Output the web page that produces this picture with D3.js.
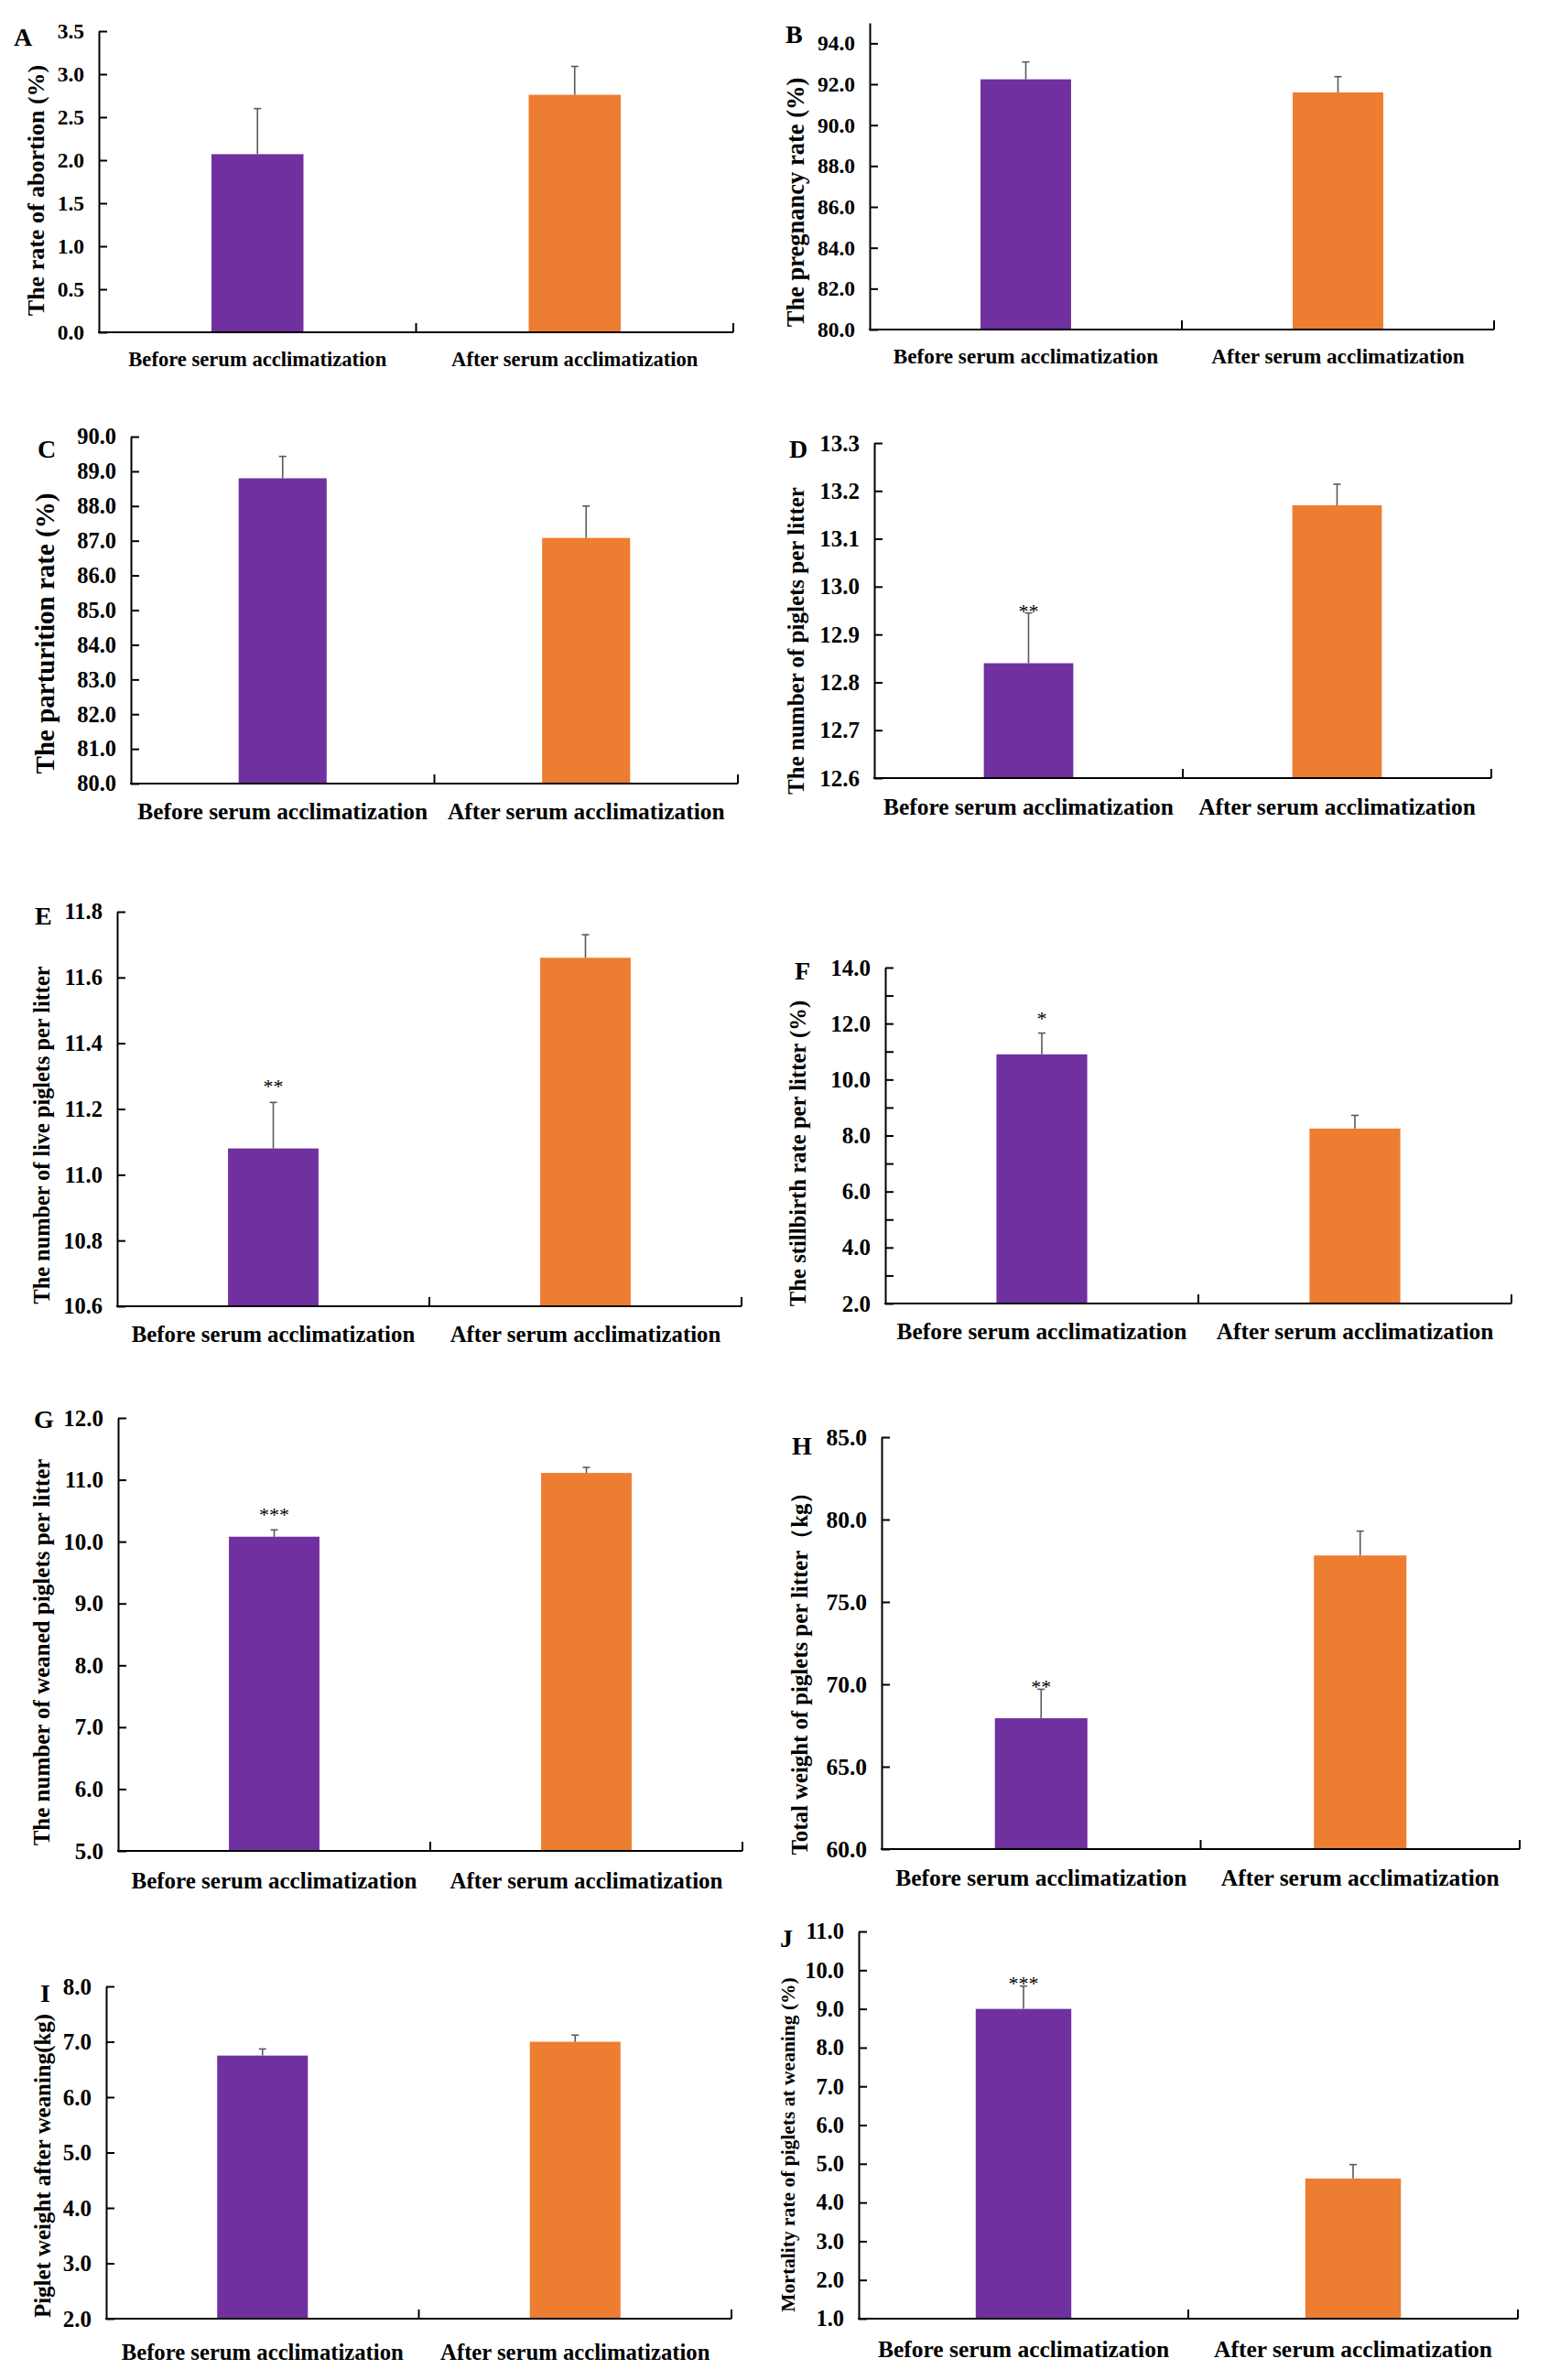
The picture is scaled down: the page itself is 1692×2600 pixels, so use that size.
<!doctype html>
<html>
<head>
<meta charset="utf-8">
<style>
    body { margin: 0; background: #fff; }
    svg { display: block; background: #fff; }
    text { font-family: 'Liberation Serif', 'Times New Roman', serif; font-weight: bold; fill: #000; }
    .domain, .tick line { stroke: #000; stroke-width: 2; }
    .xaxis line { stroke: #000; stroke-width: 2; }
    .err line { stroke: #5a5a5a; stroke-width: 1.6; }
    text.star { font-weight: normal; }
</style>
<script src="https://d3js.org/d3.v7.min.js"></script>
</head>
<body>
<svg width="1692" height="2600"></svg>
<script>
// ---- data ----
const categories = ['Before serum acclimatization', 'After serum acclimatization'];
const panelIds = ['A', 'B', 'C', 'D', 'E', 'F', 'G', 'H', 'I', 'J'];
const yTitles = [
    'The rate of abortion (%)',
    'The pregnancy rate (%)',
    'The parturition rate (%)',
    'The number of piglets per litter',
    'The number of live piglets per litter',
    'The stillbirth rate per litter (%)',
    'The number of weaned piglets per litter',
    'Total weight of piglets per litter（kg）',
    'Piglet weight after weaning(kg)',
    'Mortality rate of piglets at weaning (%)'
];
const beforeMeans  = [2.07, 92.24, 88.80, 12.84, 11.08, 10.90, 10.08, 67.94, 6.75, 9.00];
const afterMeans   = [2.76, 91.60, 87.08, 13.17, 11.66, 8.25, 11.11, 77.82, 7.00, 4.62];
const beforeErrors = [0.53, 0.85, 0.63, 0.105, 0.14, 0.76, 0.11, 1.76, 0.12, 0.59];
const afterErrors  = [0.33, 0.77, 0.92, 0.044, 0.07, 0.47, 0.09, 1.48, 0.12, 0.36];
const beforeStars  = ['', '', '', '**', '**', '*', '***', '**', '', '***'];
const afterStars   = ['', '', '', '', '', '', '', '', '', ''];
const yDomains = [[0, 3.5], [80, 95], [80, 90], [12.6, 13.3], [10.6, 11.8], [2, 14], [5, 12], [60, 85], [2, 8], [1, 11]];
const yTickLabels = [
    [0, 0.5, 1.0, 1.5, 2.0, 2.5, 3.0, 3.5],
    [80, 82, 84, 86, 88, 90, 92, 94],
    [80, 81, 82, 83, 84, 85, 86, 87, 88, 89, 90],
    [12.6, 12.7, 12.8, 12.9, 13.0, 13.1, 13.2, 13.3],
    [10.6, 10.8, 11.0, 11.2, 11.4, 11.6, 11.8],
    [2, 4, 6, 8, 10, 12, 14],
    [5, 6, 7, 8, 9, 10, 11, 12],
    [60, 65, 70, 75, 80, 85],
    [2, 3, 4, 5, 6, 7, 8],
    [1, 2, 3, 4, 5, 6, 7, 8, 9, 10, 11]
];
const yMinorTicks = [[], [], [], [], [], [3, 5, 7, 9, 11, 13], [], [], [], []];

// ---- layout of each panel on the page ----
const layout = [
    {x0: 108, x1: 801,  yt: 34,   yb: 363,  tx: 39,  ty: 208,  ts: 26,   lx: 15,  ly: 50,   fy: 400,  fs: 22.6, ks: 23.5, gap: 6},
    {x0: 950, x1: 1632, yt: 25,   yb: 360,  tx: 869, ty: 221,  ts: 26.5, lx: 858, ly: 47,   fy: 397,  fs: 23.2, ks: 23.5, gap: 6},
    {x0: 143, x1: 806,  yt: 477,  yb: 856,  tx: 49,  ty: 692,  ts: 29,   lx: 41,  ly: 500,  fy: 895,  fs: 25.4, ks: 24.5, gap: 6},
    {x0: 955, x1: 1629, yt: 484,  yb: 850,  tx: 869, ty: 700,  ts: 25,   lx: 862, ly: 500,  fy: 890,  fs: 25.4, ks: 25,   gap: 3},
    {x0: 128, x1: 810,  yt: 996,  yb: 1427, tx: 45,  ty: 1240, ts: 24.3, lx: 38,  ly: 1010, fy: 1466, fs: 24.8, ks: 24.5, gap: 18},
    {x0: 967, x1: 1651, yt: 1057, yb: 1424, tx: 871, ty: 1260, ts: 24.7, lx: 868, ly: 1070, fy: 1463, fs: 25.4, ks: 25,   gap: 17},
    {x0: 129, x1: 811,  yt: 1549, yb: 2022, tx: 45,  ty: 1805, ts: 25,   lx: 37,  ly: 1560, fy: 2063, fs: 25,   ks: 25,   gap: 17},
    {x0: 963, x1: 1660, yt: 1570, yb: 2020, tx: 873, ty: 1822, ts: 24.8, lx: 865, ly: 1589, fy: 2060, fs: 25.5, ks: 25.5, gap: 3},
    {x0: 116, x1: 799,  yt: 2170, yb: 2533, tx: 46,  ty: 2366, ts: 24.9, lx: 44,  ly: 2187, fy: 2578, fs: 24.7, ks: 25,   gap: 6},
    {x0: 938, x1: 1658, yt: 2110, yb: 2533, tx: 860, ty: 2343, ts: 21.5, lx: 852, ly: 2127, fy: 2575, fs: 25.5, ks: 24.5, gap: 4}
];

const colors = ['#7030A0', '#ED7D31'];
const fmt = d3.format('.1f');
const svg = d3.select('svg');

panelIds.forEach((id, i) => {
    const L = layout[i];
    const g = svg.append('g').attr('class', 'panel');

    const x = d3.scaleBand().domain(categories).range([L.x0, L.x1]).padding(0);
    const y = d3.scaleLinear().domain(yDomains[i]).range([L.yb, L.yt]);
    const barW = x.bandwidth() * 0.29;

    const rows = categories.map((c, k) => ({
        cat: c,
        mean: k === 0 ? beforeMeans[i] : afterMeans[i],
        err: k === 0 ? beforeErrors[i] : afterErrors[i],
        star: k === 0 ? beforeStars[i] : afterStars[i],
        color: colors[k]
    }));

    // bars
    g.selectAll('rect.bar').data(rows).enter().append('rect')
        .attr('class', 'bar')
        .attr('x', d => x(d.cat) + (x.bandwidth() - barW) / 2)
        .attr('y', d => y(d.mean))
        .attr('width', barW)
        .attr('height', d => y(yDomains[i][0]) - y(d.mean))
        .attr('fill', d => d.color);

    // error bars (upper only)
    const err = g.selectAll('g.err').data(rows).enter().append('g').attr('class', 'err');
    err.append('line')
        .attr('x1', d => x(d.cat) + x.bandwidth() / 2)
        .attr('x2', d => x(d.cat) + x.bandwidth() / 2)
        .attr('y1', d => y(d.mean))
        .attr('y2', d => y(d.mean + d.err));
    err.append('line')
        .attr('x1', d => x(d.cat) + x.bandwidth() / 2 - 4)
        .attr('x2', d => x(d.cat) + x.bandwidth() / 2 + 4)
        .attr('y1', d => y(d.mean + d.err))
        .attr('y2', d => y(d.mean + d.err));

    // significance stars, glyph sits about 8px above its baseline
    g.selectAll('text.star').data(rows.filter(d => d.star)).enter().append('text')
        .attr('class', 'star')
        .attr('x', d => x(d.cat) + x.bandwidth() / 2)
        .attr('y', d => y(d.mean + d.err) + 8 - L.gap)
        .attr('text-anchor', 'middle')
        .style('font-size', '22px')
        .text(d => d.star);

    // y axis, ticks pointing inwards
    const yAxis = g.append('g')
        .attr('transform', `translate(${L.x0},0)`)
        .call(d3.axisLeft(y)
            .tickValues(yTickLabels[i])
            .tickFormat(fmt)
            .tickSizeInner(-9)
            .tickSizeOuter(0)
            .tickPadding(16));
    yAxis.selectAll('text')
        .style('font-size', L.ks + 'px')
        .style('font-family', "'Liberation Serif', 'Times New Roman', serif")
        .style('font-weight', 'bold')
        .attr('fill', '#000');

    if (yMinorTicks[i].length) {
        g.append('g')
            .attr('transform', `translate(${L.x0},0)`)
            .call(d3.axisLeft(y).tickValues(yMinorTicks[i]).tickFormat('').tickSizeInner(-9).tickSizeOuter(0))
            .select('.domain').remove();
    }

    // x axis with category boundary ticks
    const xa = g.append('g').attr('class', 'xaxis');
    xa.append('line')
        .attr('x1', L.x0 - 1).attr('x2', L.x1)
        .attr('y1', y(yDomains[i][0])).attr('y2', y(yDomains[i][0]));
    xa.selectAll('line.bound').data(categories).enter().append('line')
        .attr('class', 'bound')
        .attr('x1', c => x(c) + x.bandwidth())
        .attr('x2', c => x(c) + x.bandwidth())
        .attr('y1', y(yDomains[i][0]))
        .attr('y2', y(yDomains[i][0]) - 10);

    // category labels
    g.selectAll('text.cat').data(categories).enter().append('text')
        .attr('class', 'cat')
        .attr('x', c => x(c) + x.bandwidth() / 2)
        .attr('y', L.fy)
        .attr('text-anchor', 'middle')
        .style('font-size', L.fs + 'px')
        .text(c => c);

    // y title
    g.append('text')
        .attr('transform', `translate(${L.tx},${L.ty}) rotate(-90)`)
        .attr('text-anchor', 'middle')
        .attr('dy', '0.35em')
        .style('font-size', L.ts + 'px')
        .text(yTitles[i]);

    // panel letter
    g.append('text')
        .attr('x', L.lx)
        .attr('y', L.ly)
        .style('font-size', '28px')
        .text(id);
});
</script>
</body>
</html>
